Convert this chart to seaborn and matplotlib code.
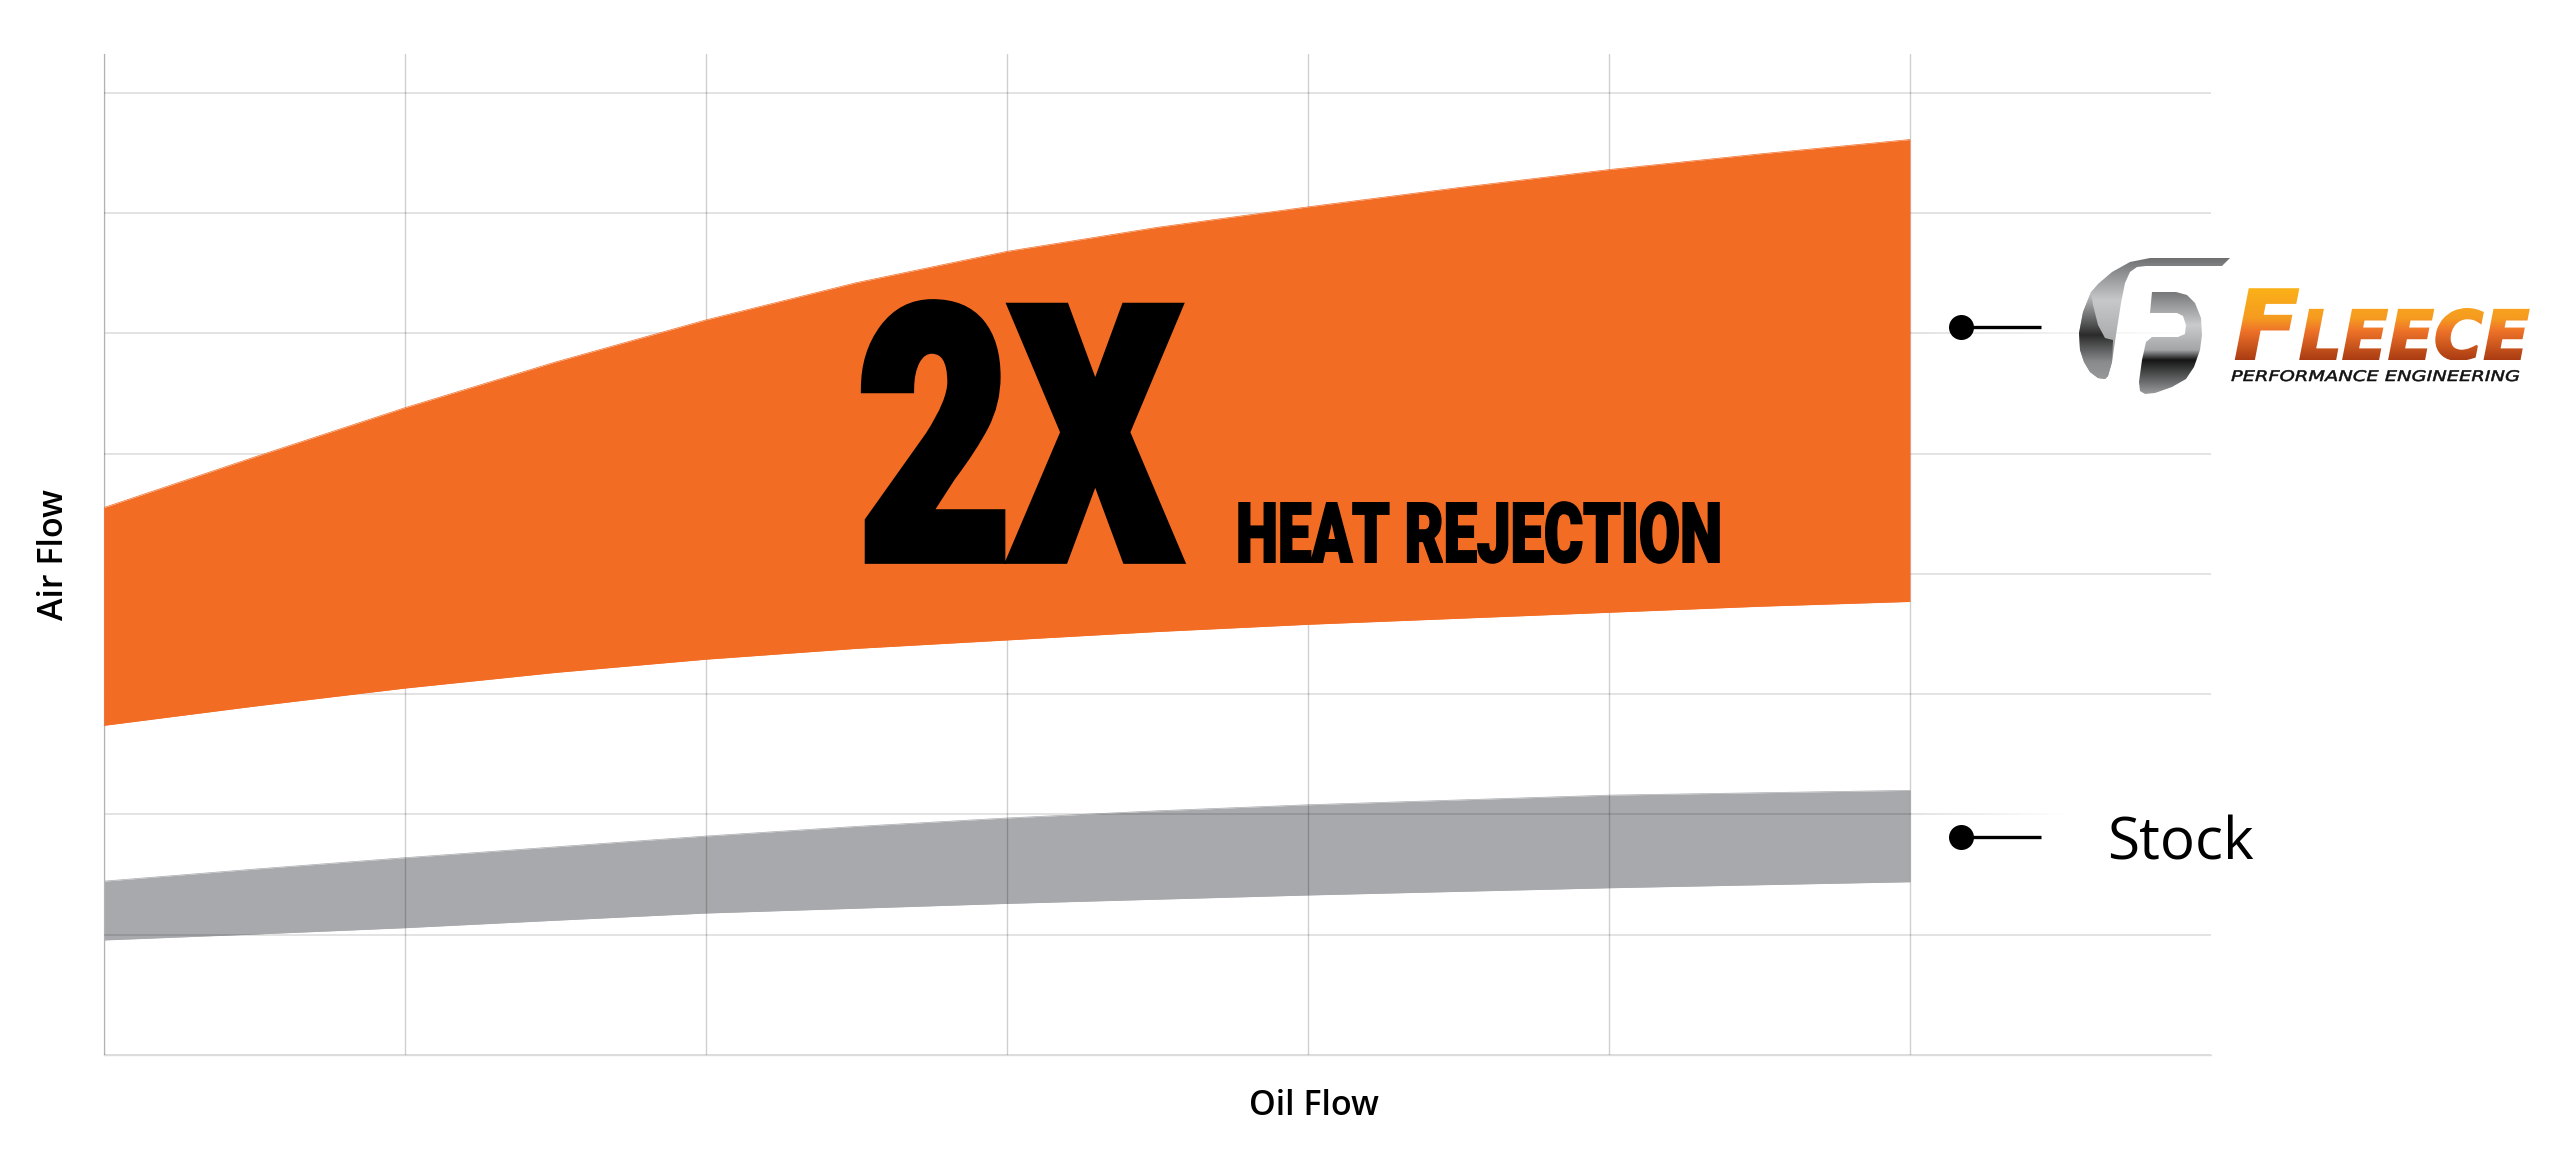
"""
Air flow vs oil flow chart, Fleece cooler against stock
"""

import numpy as np
import pandas as pd
import seaborn as sns
import matplotlib.pyplot as plt
from matplotlib.collections import LineCollection
from matplotlib.colors import LinearSegmentedColormap, to_rgb
from matplotlib.patches import PathPatch
from matplotlib.path import Path
from matplotlib.patheffects import AbstractPathEffect
from matplotlib.transforms import Affine2D, Bbox

W, H = 2560, 1157

oil_flow = [0, 0.5, 1, 1.5, 2, 2.5, 3, 3.5, 4, 4.5, 5, 5.5, 6]
fleece_upper = [4.55, 4.97, 5.38, 5.76, 6.11, 6.42, 6.68, 6.88, 7.05, 7.21, 7.36, 7.49, 7.61]
fleece_lower = [2.74, 2.90, 3.05, 3.18, 3.29, 3.38, 3.45, 3.52, 3.58, 3.63, 3.68, 3.73, 3.77]
stock_upper = [1.445, 1.545, 1.64, 1.73, 1.82, 1.90, 1.97, 2.03, 2.08, 2.12, 2.16, 2.18, 2.20]
stock_lower = [0.956, 1.005, 1.058, 1.12, 1.18, 1.22, 1.26, 1.295, 1.33, 1.36, 1.39, 1.415, 1.44]

x_grid = [0, 1, 2, 3, 4, 5, 6]
y_grid = [0, 1, 3, 4, 5, 7, 8]
# these two die out towards the logo side
y_fading = {2: 6.55, 6: 7.0}

ORANGE = "#f36c24"
GRAY = "#a7a9ac"


class ShapedText(AbstractPathEffect):
    """Stretch, thicken and colour a text, which plain matplotlib text cannot do."""

    def __init__(self, sx=1.0, sy=1.0, bold=0.0, bands=None, lead=1.0):
        super().__init__()
        self.sx = sx
        self.sy = sy
        self.bold = bold
        self.bands = bands
        self.lead = lead

    def draw_path(self, renderer, gc, tpath, affine, rgbFace=None):
        if self.lead != 1.0:
            # first letter bigger, the F is one single contour
            verts = tpath.vertices.copy()
            end = np.flatnonzero(tpath.codes == Path.MOVETO)[1]
            width = verts[:end, 0].max()
            verts[:end] *= self.lead
            verts[end:, 0] += (self.lead - 1) * width
            tpath = Path(verts, tpath.codes)
        aff = Affine2D().scale(self.sx, self.sy) + affine
        gc0 = renderer.new_gc()
        gc0.copy_properties(gc)
        gc0.set_joinstyle("miter")
        gc0.set_linewidth(self.bold)
        if self.bands is None:
            gc0.set_foreground(rgbFace)
            renderer.draw_path(gc0, tpath, aff, rgbFace)
        else:
            for y0, y1, col in self.bands:
                gc0.set_clip_rectangle(Bbox([[0, H - y1], [W, H - y0]]))
                gc0.set_foreground(col)
                renderer.draw_path(gc0, tpath, aff, col)
        gc0.restore()


def gradient_bands(y_stops, colors):
    ys = np.arange(y_stops[0], y_stops[-1])
    rgb = np.array([to_rgb(c) for c in colors])
    res = []
    for y in ys:
        res.append((y, y + 1, tuple(np.interp(y, y_stops, rgb[:, i]) for i in range(3))))
    return res


def shaded_shape(ax, points, y_stops, colors):
    # polygon filled with a vertical gradient
    y_top, y_bottom = y_stops[0], y_stops[-1]
    pos = (np.array(y_stops) - y_top) / (y_bottom - y_top)
    cmap = LinearSegmentedColormap.from_list("logo", list(zip(pos, colors)))
    xs = [p[0] for p in points]
    img = ax.imshow(np.linspace(0, 1, 256).reshape(-1, 1), cmap=cmap, aspect="auto",
                    extent=(min(xs), max(xs), y_bottom, y_top), zorder=5)
    patch = PathPatch(Path(points + [points[0]]), fc="none", ec="none", transform=ax.transData)
    ax.add_patch(patch)
    img.set_clip_path(patch)


sns.set_theme(style="white")
plt.rcParams["font.family"] = ["Open Sans", "DejaVu Sans"]

n = len(oil_flow)
df = pd.DataFrame({
    "oil": oil_flow * 2,
    "air": fleece_upper + fleece_lower,
    "edge": ["upper"] * n + ["lower"] * n,
})
df_stock = pd.DataFrame({
    "oil": oil_flow * 2,
    "air": stock_upper + stock_lower,
    "edge": ["upper"] * n + ["lower"] * n,
})

fig = plt.figure(figsize=(W / 100, H / 100), dpi=100, facecolor="white")
ax = fig.add_axes([103.7 / W, 1 - 1055 / H, (2211 - 103.7) / W, (1055 - 54) / H])

ax.fill_between(oil_flow, stock_lower, stock_upper, color=GRAY, lw=0, zorder=1)
sns.lineplot(data=df_stock, x="oil", y="air", units="edge", estimator=None, color=GRAY,
             lw=0.5, zorder=1, ax=ax)
ax.fill_between(oil_flow, fleece_lower, fleece_upper, color=ORANGE, lw=0, zorder=3)
sns.lineplot(data=df, x="oil", y="air", units="edge", estimator=None, color=ORANGE,
             lw=0.5, zorder=3, ax=ax)

ax.set_xlim(0, 7)
ax.set_ylim(0, 1001 / 120.3)
ax.set_xticks(x_grid)
ax.set_yticks(y_grid)
ax.tick_params(labelleft=False, labelbottom=False, length=0)
ax.grid(axis="x", color="black", alpha=0.19, lw=1.0, zorder=2)
ax.grid(axis="y", color="black", alpha=0.13, lw=1.2, zorder=2)
ax.set_axisbelow(False)
for name, spine in ax.spines.items():
    spine.set_visible(name in ("left", "bottom"))
    spine.set_color("#dcdcdc")
    spine.set_linewidth(1.0)

# fading gridlines, strong up to the last column then thinning out
for y, x_end in y_fading.items():
    ax.plot([0, 6], [y, y], color="black", alpha=0.13, lw=1.2, zorder=2)
    xs = np.linspace(6, x_end, 25)
    segs = [[(a, y), (b, y)] for a, b in zip(xs[:-1], xs[1:])]
    alphas = np.linspace(0.13, 0, 24)
    ax.add_collection(LineCollection(segs, colors=[(0, 0, 0, a) for a in alphas], lw=1.2, zorder=2))

ax.set_xlabel("Oil Flow", fontsize=24.5, fontweight="semibold", color="black", va="baseline")
ax.set_ylabel("Air Flow", fontsize=24.5, fontweight="semibold", color="black", va="baseline")
ax.xaxis.set_label_coords((1314 - 103.7) / 2107.3, -60 / 1001)
ax.yaxis.set_label_coords((63 - 103.7) / 2107.3, 500 / 1001)

# everything else sits on a layer in image pixels
top = fig.add_axes([0, 0, 1, 1], facecolor="none")

for y in (327, 837):
    top.plot([1961, 2041], [y, y], color="black", lw=2.4, zorder=6, solid_capstyle="butt")
    top.plot([1961], [y], "o", color="black", ms=18, mew=0, zorder=6)

top.text(2107, 859, "Stock", fontsize=42, color="black", va="baseline", ha="left")

top.text(858, 559, "2X", fontsize=190, color="black", va="baseline", ha="left",
         family="Roboto", weight=900, zorder=6,
         path_effects=[ShapedText(sy=1.34, bold=7)])
top.text(1236, 562, "HEAT REJECTION", fontsize=43, color="black", va="baseline", ha="left",
         family="Roboto", weight=900, zorder=6,
         path_effects=[ShapedText(sy=1.39, bold=1.4)])

# logo
swoosh = [(2230, 258), (2150, 258), (2130, 262), (2112, 272), (2098, 284), (2091, 292), (2083, 312),
          (2079, 333), (2080, 350), (2084, 362), (2090, 372), (2098, 378), (2105, 379), (2108, 376),
          (2112, 362), (2116, 335), (2121, 303), (2125, 283), (2130, 272), (2137, 267), (2146, 266),
          (2222, 266)]
crescent = [(2091, 292), (2083, 312), (2079, 333), (2080, 350), (2084, 362), (2090, 372), (2098, 378),
            (2105, 379), (2108, 376), (2112, 362), (2113, 340), (2105, 338), (2098, 325), (2093, 305)]
letter_p = [(2152, 292), (2176, 292), (2187, 295), (2195, 303), (2201, 318), (2202, 335), (2200, 350),
            (2194, 367), (2186, 379), (2172, 387), (2155, 393), (2145, 394), (2140, 391), (2139, 382),
            (2142, 360), (2146, 342), (2152, 337), (2178, 337), (2185, 334), (2186, 325), (2183, 316),
            (2177, 313), (2150, 313)]
shaded_shape(top, swoosh, [258, 300, 340, 380], ["#6f7072", "#c6c8ca", "#a9abad", "#8a8c8e"])
shaded_shape(top, crescent, [292, 335, 362, 380], ["#c6c8ca", "#2b2b2b", "#8a8b8d", "#97999b"])
shaded_shape(top, letter_p, [292, 325, 350, 360, 394],
             ["#77787a", "#c9cbcc", "#a3a5a7", "#151515", "#9a9c9e"])

top.text(2234, 359, "FLEECE", fontsize=48.5, color="#e8742a", va="baseline", ha="left",
         family="DejaVu Sans", weight="bold", style="oblique", zorder=6,
         path_effects=[ShapedText(lead=1.42, bold=1.5, bands=gradient_bands(
             [285, 318, 330, 360], ["#fbb316", "#f59a20", "#ee7329", "#a83a12"]))])
top.text(2231, 381, "PERFORMANCE ENGINEERING", fontsize=10.5, color="#111111", va="baseline", ha="left",
         family="DejaVu Sans", style="oblique", zorder=6,
         path_effects=[ShapedText(sx=1.33, bold=0.4)])

top.set_xlim(0, W)
top.set_ylim(H, 0)
top.axis("off")

fig.savefig("out.png", dpi=100)
